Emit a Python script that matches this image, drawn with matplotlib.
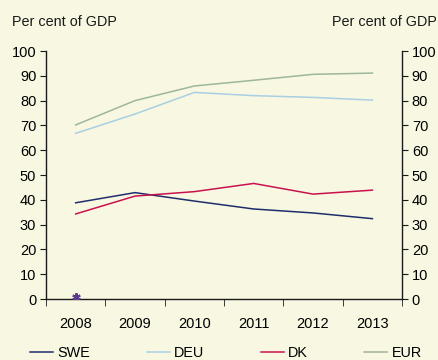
import matplotlib.pyplot as plt
from matplotlib.lines import Line2D
import numpy as np

plt.rcParams["font.family"] = ["Liberation Sans", "DejaVu Sans"]

BG = "#f8f7e2"

years = ["2008", "2009", "2010", "2011", "2012", "2013"]
swe = [38.8, 42.9, 39.5, 36.3, 34.7, 32.4]
deu = [66.8, 74.6, 83.3, 82.0, 81.3, 80.2]
dk = [34.3, 41.5, 43.3, 46.6, 42.3, 43.9]
eur = [70.2, 80.0, 85.9, 88.2, 90.6, 91.1]
marker_val = [0.9]

series = [
    ("SWE", swe, "#1f2d6b"),
    ("DEU", deu, "#a9cfe4"),
    ("DK", dk, "#c8124f"),
    ("EUR", eur, "#9db79b"),
]

fig = plt.figure(figsize=(4.38, 3.6), dpi=100, facecolor=BG)
ax = fig.add_axes([0.105, 0.1694, 0.813, 0.6889], facecolor=BG)

x = np.arange(len(years))
for name, vals, col in series:
    ax.plot(x, vals, color=col, lw=1.1, label=name)
ax.plot(x[:1], marker_val, linestyle="none", marker=(6, 2, 0), ms=6,
        mew=1.5, color="#5b3a8e", zorder=5)

ax.set_xlim(-0.5, len(years) - 0.5)
ax.set_ylim(0, 100)
ax.set_yticks(range(0, 101, 10))
ax.set_xticks(x)
ax.set_xticklabels(years)
ax.set_xticks(np.arange(-0.5, len(years)), minor=True)

ax.spines["top"].set_visible(False)
for side in ("left", "right", "bottom"):
    ax.spines[side].set_color("#1a1a1a")
    ax.spines[side].set_linewidth(1.0)

ax.tick_params(axis="y", which="major", direction="out", length=4,
               left=True, right=True, labelleft=True, labelright=True,
               labelsize=10.5, pad=3, color="#1a1a1a")
ax.tick_params(axis="x", which="major", length=0, pad=13, labelsize=10.5)
ax.tick_params(axis="x", which="minor", direction="out", length=5,
               color="#1a1a1a")

fig.text(0.027, 0.928, "Per cent of GDP", fontsize=10.4, ha="left",
         va="baseline", color="#1a1a1a")
fig.text(0.998, 0.928, "Per cent of GDP", fontsize=10.4, ha="right",
         va="baseline", color="#1a1a1a")

handles = [Line2D([], [], color=col, lw=1.1) for _, _, col in series]
fig.legend(handles, [s[0] for s in series], loc="center",
           bbox_to_anchor=(0.516, 0.02), ncol=4, frameon=False, fontsize=10.4,
           handlelength=1.6, handletextpad=0.3, columnspacing=3.9,
           borderpad=0)

fig.savefig("out.png", dpi=100, facecolor=BG)
